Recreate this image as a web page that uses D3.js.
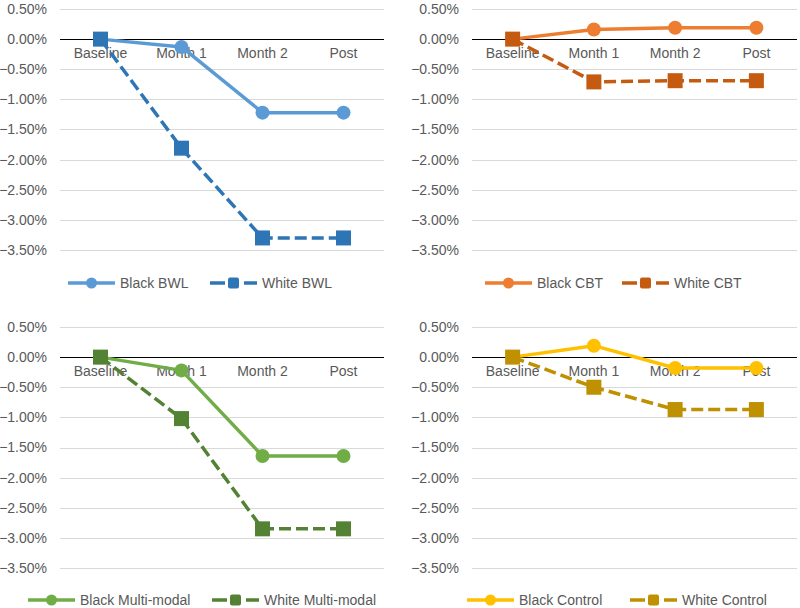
<!DOCTYPE html>
<html>
<head>
<meta charset="utf-8">
<script src="https://cdn.jsdelivr.net/npm/d3@7"></script>
<style>
  html, body { margin: 0; padding: 0; background: #fff; }
  svg { display: block; font-family: "Liberation Sans", Arial, sans-serif; }
</style>
</head>
<body>
<svg id="chart" width="800" height="608"></svg>
<script>
// ---- data ----
const categories = ["Baseline", "Month 1", "Month 2", "Post"];
const yTicks = [0.005, 0, -0.005, -0.01, -0.015, -0.02, -0.025, -0.03, -0.035];

const blackBWL = [0, -0.0013, -0.0122, -0.0122];
const whiteBWL = [0, -0.0181, -0.0330, -0.0330];
const blackCBT = [0, 0.0016, 0.0019, 0.0019];
const whiteCBT = [0, -0.0071, -0.0069, -0.0069];
const blackMulti = [0, -0.0022, -0.0164, -0.0164];
const whiteMulti = [0, -0.0102, -0.0285, -0.0285];
const blackControl = [0, 0.0019, -0.0018, -0.0018];
const whiteControl = [0, -0.0050, -0.0087, -0.0087];

const panels = [
  { blackName: "Black BWL", whiteName: "White BWL", black: blackBWL, white: whiteBWL,
    cBlack: "#5B9BD5", cWhite: "#2E75B6",
    x0: 60, x1: 384, yT: 9, yB: 250, labelX: 47, legY: 283, leg1: 68, leg2: 210 },
  { blackName: "Black CBT", whiteName: "White CBT", black: blackCBT, white: whiteCBT,
    cBlack: "#ED7D31", cWhite: "#C55A11",
    x0: 472, x1: 797, yT: 9, yB: 250, labelX: 459, legY: 283, leg1: 485, leg2: 622 },
  { blackName: "Black Multi-modal", whiteName: "White Multi-modal", black: blackMulti, white: whiteMulti,
    cBlack: "#70AD47", cWhite: "#548235",
    x0: 60, x1: 384, yT: 327, yB: 568, labelX: 47, legY: 600, leg1: 28, leg2: 212 },
  { blackName: "Black Control", whiteName: "White Control", black: blackControl, white: whiteControl,
    cBlack: "#FFC000", cWhite: "#BF9000",
    x0: 472, x1: 797, yT: 327, yB: 568, labelX: 459, legY: 600, leg1: 467, leg2: 630 }
];

const svg = d3.select("#chart");
const textColor = "#595959";
const fmt = d3.format(".2%");
const LW = 3.5;

panels.forEach(p => {
  const g = svg.append("g");
  const x = d3.scaleBand().domain(categories).range([p.x0, p.x1]);
  const y = d3.scaleLinear().domain([0.005, -0.035]).range([p.yT, p.yB]);

  // gridlines
  g.append("g").selectAll("line").data(yTicks.filter(t => t !== 0)).join("line")
    .attr("x1", p.x0).attr("x2", p.x1)
    .attr("y1", d => Math.round(y(d)) + 0.5).attr("y2", d => Math.round(y(d)) + 0.5)
    .attr("stroke", "#D9D9D9").attr("stroke-width", 1);

  // y axis labels
  const yAxis = d3.axisLeft(y).tickValues(yTicks).tickFormat(fmt).tickSize(0).tickPadding(0);
  const ya = g.append("g").attr("transform", `translate(${p.labelX},0)`).call(yAxis);
  ya.select(".domain").remove();
  ya.selectAll("text").attr("fill", textColor).attr("font-size", 14)
    .attr("font-family", '"Liberation Sans", Arial, sans-serif');

  // zero line (category axis)
  const xAxis = d3.axisBottom(x).tickSize(0).tickPadding(9);
  const xa = g.append("g").attr("transform", `translate(0,${Math.round(y(0)) + 0.5})`).call(xAxis);
  xa.select(".domain").attr("stroke", "#000").attr("stroke-width", 1)
    .attr("d", `M${p.x0},0H${p.x1}`);
  xa.selectAll("text").attr("fill", textColor).attr("font-size", 14)
    .attr("font-family", '"Liberation Sans", Arial, sans-serif');

  const cx = i => x(categories[i]) + x.bandwidth() / 2;
  const line = d3.line().x((d, i) => cx(i)).y(d => y(d));

  // black series (solid, circles)
  g.append("path").datum(p.black).attr("d", line)
    .attr("fill", "none").attr("stroke", p.cBlack).attr("stroke-width", LW)
    .attr("stroke-linejoin", "round").attr("stroke-linecap", "round");
  g.append("g").selectAll("circle").data(p.black).join("circle")
    .attr("cx", (d, i) => cx(i))
    .attr("cy", d => y(d)).attr("r", 7).attr("fill", p.cBlack);

  // white series (dashed, squares)
  g.append("path").datum(p.white).attr("d", line)
    .attr("fill", "none").attr("stroke", p.cWhite).attr("stroke-width", LW)
    .attr("stroke-dasharray", "12,5");
  g.append("g").selectAll("rect").data(p.white).join("rect")
    .attr("x", (d, i) => cx(i) - 7.5)
    .attr("y", d => y(d) - 7.5).attr("width", 15).attr("height", 15)
    .attr("fill", p.cWhite);

  // legend
  const lg = g.append("g");
  const L = 47;
  // black item
  lg.append("line").attr("x1", p.leg1).attr("x2", p.leg1 + L)
    .attr("y1", p.legY).attr("y2", p.legY)
    .attr("stroke", p.cBlack).attr("stroke-width", LW);
  lg.append("circle").attr("cx", p.leg1 + L / 2).attr("cy", p.legY).attr("r", 5.5).attr("fill", p.cBlack);
  lg.append("text").attr("x", p.leg1 + L + 5).attr("y", p.legY).attr("dy", "0.35em")
    .attr("font-size", 14).attr("fill", textColor).text(p.blackName);
  // white item
  lg.append("line").attr("x1", p.leg2).attr("x2", p.leg2 + 15)
    .attr("y1", p.legY).attr("y2", p.legY)
    .attr("stroke", p.cWhite).attr("stroke-width", LW);
  lg.append("line").attr("x1", p.leg2 + L - 13).attr("x2", p.leg2 + L)
    .attr("y1", p.legY).attr("y2", p.legY)
    .attr("stroke", p.cWhite).attr("stroke-width", LW);
  lg.append("rect").attr("x", p.leg2 + L / 2 - 5.5).attr("y", p.legY - 5.5)
    .attr("width", 11).attr("height", 11).attr("rx", 2).attr("fill", p.cWhite);
  lg.append("text").attr("x", p.leg2 + L + 5).attr("y", p.legY).attr("dy", "0.35em")
    .attr("font-size", 14).attr("fill", textColor).text(p.whiteName);
});
</script>
</body>
</html>
